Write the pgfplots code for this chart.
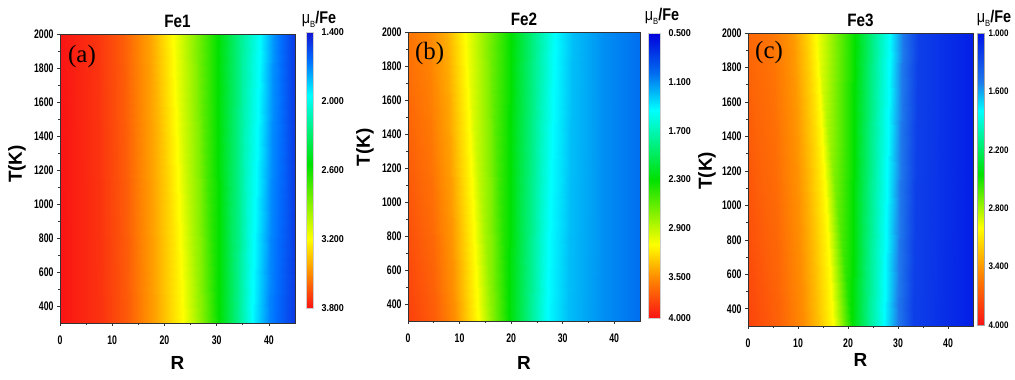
\documentclass[border=0pt]{standalone}
\usepackage{fontspec}
\setmainfont{Liberation Sans}
\newfontfamily\cnA{Liberation Sans}[FakeStretch=0.70]
\newfontfamily\cnB{Liberation Sans}[FakeStretch=0.85]
\newfontfamily\cnC{Liberation Sans}[FakeStretch=0.90]
\newfontfamily\serifT{Liberation Serif}
\usepackage{pgfplots}
\pgfplotsset{compat=1.18}
\newcommand\ticksf{\cnA\bfseries\fontsize{12.5}{12.5}\selectfont}
\newcommand\titlesf{\cnB\bfseries\fontsize{18}{18}\selectfont}
\newcommand\labsf{\bfseries\fontsize{19}{19}\selectfont}
\newcommand\cbsf{\cnC\bfseries\fontsize{10}{10}\selectfont}

\definecolor{cDeepA}{RGB}{20,20,210}
\definecolor{cMidA}{RGB}{0,110,255}
\definecolor{cDeepB}{RGB}{0,0,220}
\definecolor{cMidB}{RGB}{0,110,240}
\definecolor{cDeepC}{RGB}{0,20,230}
\definecolor{cMidC}{RGB}{30,120,235}
\definecolor{cCyan}{RGB}{0,255,255}
\definecolor{cGreen}{RGB}{0,225,0}
\definecolor{cYellow}{RGB}{255,255,0}
\definecolor{cOrange}{RGB}{255,140,0}
\definecolor{cRed}{RGB}{250,20,20}

% meta values are stored negated (-mu), so that red (large mu) sits at the
% bottom of an ordinary colorbar and blue (small mu) at its top
\pgfplotsset{
  colormap={mapA}{color(0pt)=(cRed) color(30pt)=(cOrange) color(60pt)=(cYellow) color(125pt)=(cGreen) color(185pt)=(cCyan) color(215pt)=(cMidA) color(240pt)=(cDeepA)},
  colormap={mapB}{color(0pt)=(cRed) color(50pt)=(cOrange) color(90pt)=(cYellow) color(170pt)=(cGreen) color(255pt)=(cCyan) color(300pt)=(cMidB) color(350pt)=(cDeepB)},
  colormap={mapC}{color(0pt)=(cRed) color(55pt)=(cOrange) color(100pt)=(cYellow) color(155pt)=(cGreen) color(220pt)=(cCyan) color(250pt)=(cMidC) color(300pt)=(cDeepC)},
  heat/.style={
    scale only axis,
    xmin=0, xmax=45, ymin=300, ymax=2000,
    xtick={0,10,20,30,40}, ytick={400,600,...,2000},
    minor x tick num=1, minor y tick num=1,
    tick pos=left, tick align=outside,
    major tick length=3bp, minor tick length=2bp,
    tick style={black!80, line width=0.6bp},
    axis line style={black!80, line width=0.7bp},
    /pgf/number format/assume math mode=true,
    /pgf/number format/1000 sep={},
    tick label style={font=\ticksf},
    xticklabel style={yshift=-6bp},
    title style={font=\titlesf, at={(0.5,1)}, anchor=base, yshift=1bp},
    label style={font=\labsf},
    xlabel={R}, ylabel={T(K)},
    xlabel style={at={(0.5,0)}, anchor=base, yshift=-46bp},
    axis on top,
    colorbar,
  },
  cb/.style={
    scale only axis,
    at={(parent axis.north east)}, anchor=north west,
    major tick length=0pt,
    axis line style={draw=gray!40},
    yticklabel style={font=\cbsf, xshift=5bp},
  },
}

\begin{document}
\begin{tikzpicture}
\useasboundingbox (0,0) rectangle (1015bp,380bp);

% ---------------- (a) Fe1 ----------------
\begin{axis}[heat,
  at={(60bp,57bp)}, anchor=south west,
  width=235bp, height=289bp,
  title={Fe1},
  ylabel style={at={(0,0.55)}, anchor=center, yshift=43bp},
  colormap name=mapA,
  point meta min=-3.8, point meta max=-1.4,
  colorbar style={cb, xshift=2.5bp, yshift=2bp, width=7bp, height=276bp,
    ytick={-3.8,-3.2,-2.6,-2.0,-1.4},
    yticklabels={3.800,3.200,2.600,2.000,1.400}},
]
\addplot[surf, shader=interp, mesh/rows=2, mesh/cols=11, point meta=explicit]
table[x=R, y=T, meta expr=-\thisrow{M}]{
R T M
0 300 3.80
8 300 3.72
13 300 3.62
18 300 3.45
23.6 300 3.20
27 300 2.90
30.5 300 2.55
34 300 2.22
36.8 300 1.95
40 300 1.70
45 300 1.50
0 2000 3.80
7 2000 3.72
12 2000 3.62
17 2000 3.45
21.7 2000 3.20
26 2000 2.88
30.2 2000 2.55
34.5 2000 2.22
38.3 2000 1.95
41 2000 1.72
45 2000 1.50
};
\end{axis}

% ---------------- (b) Fe2 ----------------
\begin{axis}[heat,
  at={(408bp,59bp)}, anchor=south west,
  width=232bp, height=289bp,
  title={Fe2},
  ylabel style={at={(0,0.6)}, anchor=center, yshift=43bp},
  xlabel style={yshift=-2bp},
  colormap name=mapB,
  point meta min=-4.0, point meta max=-0.5,
  colorbar style={cb, xshift=-0.5bp, yshift=-1bp, width=12bp, height=285bp,
    ytick={-4.0,-3.5,-2.9,-2.3,-1.7,-1.1,-0.5},
    yticklabels={4.000,3.500,2.900,2.300,1.700,1.100,0.500}},
]
\addplot[surf, shader=interp, mesh/rows=2, mesh/cols=11, point meta=explicit]
table[x=R, y=T, meta expr=-\thisrow{M}]{
R T M
0 300 3.82
5 300 3.70
9 300 3.50
13.5 300 3.10
16.5 300 2.70
19.5 300 2.30
23.5 300 1.85
27 300 1.45
31 300 1.25
38 300 1.10
45 300 1.00
0 2000 3.60
4 2000 3.52
7.5 2000 3.38
11 2000 3.10
15.5 2000 2.70
20 2000 2.30
24.5 2000 1.85
28.5 2000 1.45
32 2000 1.25
38 2000 1.10
45 2000 1.00
};
\end{axis}

% ---------------- (c) Fe3 ----------------
\begin{axis}[heat,
  at={(748bp,54bp)}, anchor=south west,
  width=225bp, height=293bp,
  title={Fe3},
  ylabel style={at={(0,0.53)}, anchor=center, yshift=41bp},
  xlabel style={yshift=6bp},
  colormap name=mapC,
  point meta min=-4.0, point meta max=-1.0,
  colorbar style={cb, xshift=-4.5bp, yshift=0bp, width=7bp, height=292bp,
    axis line style={draw=gray!70},
    yticklabel style={font=\cnB\bfseries\fontsize{9.5}{9.5}\selectfont, xshift=-4bp},
    ytick={-4.0,-3.4,-2.8,-2.2,-1.6,-1.0},
    yticklabels={4.000,3.400,2.800,2.200,1.600,1.000}},
]
\addplot[surf, shader=interp, mesh/rows=2, mesh/cols=11, point meta=explicit]
table[x=R, y=T, meta expr=-\thisrow{M}]{
R T M
0 300 3.78
6 300 3.65
11 300 3.45
14 300 3.25
17 300 3.00
20.7 300 2.45
24 300 2.10
27.2 300 1.80
30 300 1.50
33 300 1.22
45 300 1.05
0 2000 3.62
5 2000 3.55
9 2000 3.40
11.5 2000 3.20
13.6 2000 3.00
21.3 2000 2.45
25 2000 2.10
28.4 2000 1.80
31 2000 1.50
34 2000 1.22
45 2000 1.05
};
\end{axis}

% panel letters
\node[font=\serifT\fontsize{25}{25}\selectfont, anchor=west, inner sep=0pt] at (68bp,323bp) {(a)};
\node[font=\serifT\fontsize{25}{25}\selectfont, anchor=west, inner sep=0pt] at (415bp,326bp) {(b)};
\node[font=\serifT\fontsize{25}{25}\selectfont, anchor=west, inner sep=0pt] at (755bp,327bp) {(c)};

% colorbar titles
\node[font=\cnB\fontsize{17}{17}\selectfont, inner sep=0pt] at (319bp,361bp) {μ\raisebox{-0.45ex}{\fontsize{9}{9}\selectfont B}\textbf{/Fe}};
\node[font=\cnB\fontsize{17}{17}\selectfont, inner sep=0pt] at (662bp,364bp) {μ\raisebox{-0.45ex}{\fontsize{9}{9}\selectfont B}\textbf{/Fe}};
\node[font=\cnB\fontsize{17}{17}\selectfont, inner sep=0pt] at (994bp,362bp) {μ\raisebox{-0.45ex}{\fontsize{9}{9}\selectfont B}\textbf{/Fe}};
\end{tikzpicture}
\end{document}
